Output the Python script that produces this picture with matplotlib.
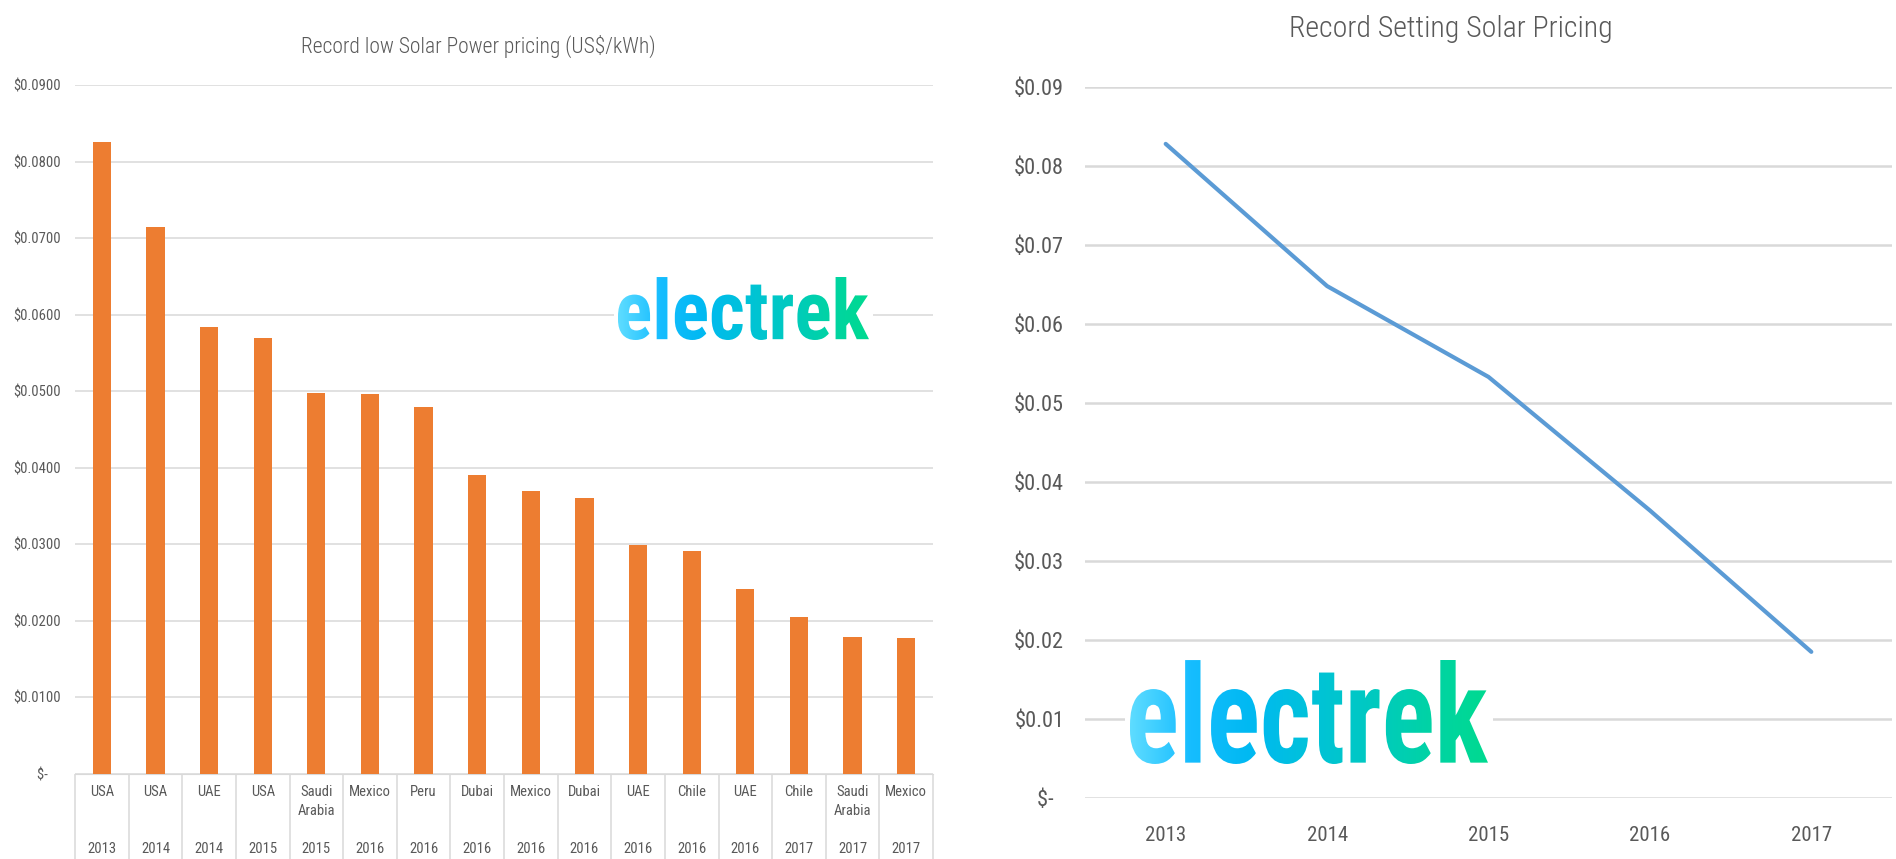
import numpy as np
import matplotlib
matplotlib.use('Agg')
import matplotlib.pyplot as plt
from matplotlib.ticker import FuncFormatter
from matplotlib.textpath import TextPath
from matplotlib.patches import PathPatch
from matplotlib.font_manager import FontProperties
from matplotlib.colors import LinearSegmentedColormap
import matplotlib.transforms as mtransforms

# left chart: record low bids (US$/kWh)
countries = ['USA', 'USA', 'UAE', 'USA', 'Saudi\nArabia', 'Mexico', 'Peru', 'Dubai',
             'Mexico', 'Dubai', 'UAE', 'Chile', 'UAE', 'Chile', 'Saudi\nArabia', 'Mexico']
bid_years = ['2013', '2014', '2014', '2015', '2015', '2016', '2016', '2016',
             '2016', '2016', '2016', '2016', '2016', '2017', '2017', '2017']
bid_prices = [0.0826, 0.0714, 0.0584, 0.0569, 0.0498, 0.0496, 0.0480, 0.0390,
              0.0370, 0.0360, 0.0299, 0.0291, 0.0242, 0.0205, 0.0179, 0.0177]

# right chart: record per year
years = ['2013', '2014', '2015', '2016', '2017']
record_prices = [0.0828, 0.0648, 0.0533, 0.0364, 0.0185]

W, H = 1896, 859
FONT = ['Roboto Condensed', 'DejaVu Sans']
plt.rcParams['font.family'] = FONT
GRAY = '#595959'
GRID = '#d9d9d9'

fig = plt.figure(figsize=(W / 100, H / 100), dpi=100)


def px_rect(x0, y0, x1, y1):
    # pixel box (y from top) -> figure fraction rect
    return [x0 / W, 1 - y1 / H, (x1 - x0) / W, (y1 - y0) / H]


# ---- left: bar chart
ax1 = fig.add_axes(px_rect(75, 85, 933, 774))
x = np.arange(len(bid_prices))
ax1.bar(x, bid_prices, width=0.34, color='#ed7d31', zorder=3)
ax1.set_xlim(-0.5, len(x) - 0.5)
ax1.set_ylim(0, 0.09)
ax1.set_yticks(np.arange(0, 0.0901, 0.01))
ax1.yaxis.set_major_formatter(FuncFormatter(lambda v, p: '$-    ' if v < 1e-9 else f'${v:.4f}'))
ax1.grid(axis='y', color=GRID, lw=1.1, zorder=0)
for s in ['top', 'right', 'left']:
    ax1.spines[s].set_visible(False)
ax1.spines['bottom'].set_color(GRID)
ax1.tick_params(axis='y', length=0, pad=10, labelsize=10.5, labelcolor=GRAY)
ax1.set_xticks([])
tr = mtransforms.blended_transform_factory(ax1.transData, ax1.transAxes)
ax1.vlines(np.arange(len(x) + 1) - 0.5, -0.125, 0, transform=tr, color=GRID, lw=1.1, clip_on=False)
for i in range(len(x)):
    ax1.text(i, -0.016, countries[i], transform=tr, ha='center', va='top',
             fontsize=10.5, color=GRAY, linespacing=1.45)
    ax1.text(i, -0.109, bid_years[i], transform=tr, ha='center', va='center',
             fontsize=10.5, color=GRAY)
fig.text(478 / W, 1 - 46 / H, 'Record low Solar Power pricing (US$/kWh)', ha='center',
         va='center', fontsize=15.5, color=GRAY, fontweight='light')

# ---- right: line chart
ax2 = fig.add_axes(px_rect(1085, 87, 1892, 798))
ax2.plot(np.arange(len(years)), record_prices, color='#5b9bd5', lw=3, zorder=3,
         solid_capstyle='round')
ax2.set_xlim(-0.5, len(years) - 0.5)
ax2.set_ylim(0, 0.09)
ax2.set_yticks(np.arange(0, 0.0901, 0.01))
ax2.yaxis.set_major_formatter(FuncFormatter(lambda v, p: '$-  ' if v < 1e-9 else f'${v:.2f}'))
ax2.set_xticks(np.arange(len(years)))
ax2.set_xticklabels(years)
ax2.grid(axis='y', color=GRID, lw=1.8, zorder=0)
for s in ax2.spines.values():
    s.set_visible(False)
ax2.tick_params(axis='y', length=0, pad=15, labelsize=16, labelcolor=GRAY)
ax2.tick_params(axis='x', length=0, pad=20, labelsize=15, labelcolor=GRAY)
fig.text(1451 / W, 1 - 29 / H, 'Record Setting Solar Pricing', ha='center',
         va='center', fontsize=21.5, color=GRAY, fontweight='light')

# ---- electrek watermarks
logo_cmap = LinearSegmentedColormap.from_list(
    'electrek', ['#5edcff', '#16bdff', '#00b9f2', '#00c2da', '#00c9c2', '#00d3a6', '#00da90'])
logo_path = TextPath((0, 0), 'electrek', size=1,
                     prop=FontProperties(family=['Roboto Condensed', 'DejaVu Sans'], weight='bold'))
bb = logo_path.get_extents()


def add_logo(letters, white):
    lx0, ly0, lx1, ly1 = letters
    wx0, wy0, wx1, wy1 = white
    lax = fig.add_axes(px_rect(wx0, wy0, wx1, wy1))
    lax.set_facecolor('white')
    lax.set_xticks([])
    lax.set_yticks([])
    for s in lax.spines.values():
        s.set_visible(False)
    sx = (bb.x1 - bb.x0) / (lx1 - lx0)
    sy = (bb.y1 - bb.y0) / (ly1 - ly0)
    lax.set_xlim(bb.x0 - (lx0 - wx0) * sx, bb.x1 + (wx1 - lx1) * sx)
    lax.set_ylim(bb.y0 - (wy1 - ly1) * sy, bb.y1 + (ly0 - wy0) * sy)
    patch = PathPatch(logo_path, fc='none', ec='none')
    lax.add_patch(patch)
    im = lax.imshow(np.linspace(0, 1, 256).reshape(1, -1), cmap=logo_cmap,
                    extent=[bb.x0, bb.x1, bb.y0, bb.y1], aspect='auto', interpolation='bilinear')
    im.set_clip_path(patch)


add_logo((618, 277, 869, 340), (614, 268, 873, 350))
add_logo((1130, 660, 1488, 764), (1125, 650, 1493, 772))

fig.savefig('out.png', dpi=100, facecolor='white')
